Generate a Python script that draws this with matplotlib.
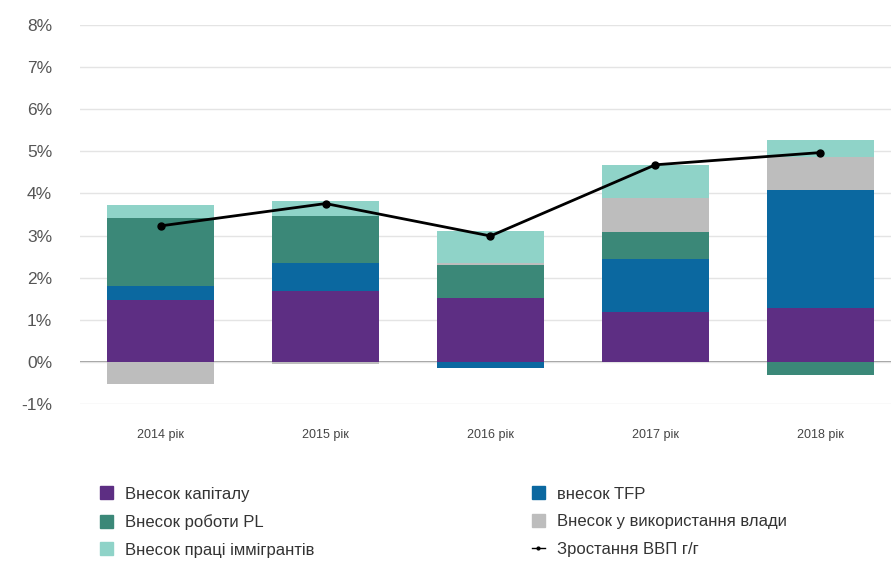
import numpy as np
import matplotlib.pyplot as plt
from matplotlib.patches import Patch
from matplotlib.lines import Line2D

# дані (внески у зростання ВВП, %)
years = ['2014 рік', '2015 рік', '2016 рік', '2017 рік', '2018 рік']
capital = [1.48, 1.69, 1.52, 1.19, 1.28]
tfp = [0.32, 0.66, -0.14, 1.25, 2.80]
labor_pl = [1.62, 1.11, 0.78, 0.65, -0.32]
power_use = [-0.52, -0.04, 0.05, 0.79, 0.79]
immigrants = [0.30, 0.36, 0.76, 0.79, 0.39]
gdp_growth = [3.23, 3.76, 2.99, 4.68, 4.97]

series = [
    ('Внесок капіталу', capital, '#5d2e83'),
    ('внесок TFP', tfp, '#0b68a0'),
    ('Внесок роботи PL', labor_pl, '#3b8878'),
    ('Внесок у використання влади', power_use, '#bdbdbd'),
    ('Внесок праці іммігрантів', immigrants, '#8fd3c8'),
]

plt.rcParams['font.family'] = ['Liberation Sans', 'DejaVu Sans']

fig = plt.figure(figsize=(8.91, 5.68), dpi=100)
ax = fig.add_axes([80 / 891, 164 / 568, 811 / 891, 379 / 568])

x = np.arange(len(years))
pos_base = np.zeros(len(years))
neg_base = np.zeros(len(years))
colors = {}
for name, vals, col in series:
    vals = np.array(vals)
    bottom = np.where(vals >= 0, pos_base, neg_base)
    ax.bar(x, vals, 0.65, bottom=bottom, color=col, zorder=2)
    pos_base = pos_base + np.where(vals >= 0, vals, 0)
    neg_base = neg_base + np.where(vals < 0, vals, 0)
    colors[name] = col

# лінія зростання ВВП
ax.plot(x, gdp_growth, color='black', lw=2, marker='o', markersize=5, zorder=3)

ax.set_ylim(-1, 8)
ax.set_xlim(-0.49, 4.43)
ax.set_yticks(range(-1, 9))
ax.set_yticklabels([f'{v}%' for v in range(-1, 9)], fontsize=12.5, color='#555555')
ax.set_xticks(x)
ax.set_xticklabels(years, fontsize=9, color='#444444')
ax.tick_params(length=0)
ax.tick_params(axis='y', pad=20)
ax.tick_params(axis='x', pad=18)
ax.grid(axis='y', color='#e4e4e4', lw=1, zorder=0)
ax.axhline(0, color='#888888', lw=1.2, zorder=1)
for s in ax.spines.values():
    s.set_visible(False)

left_items = [Patch(color=colors['Внесок капіталу']),
              Patch(color=colors['Внесок роботи PL']),
              Patch(color=colors['Внесок праці іммігрантів'])]
left_labels = ['Внесок капіталу', 'Внесок роботи PL', 'Внесок праці іммігрантів']
right_items = [Patch(color=colors['внесок TFP']),
               Patch(color=colors['Внесок у використання влади']),
               Line2D([], [], color='black', lw=1, marker='o', markersize=2)]
right_labels = ['внесок TFP', 'Внесок у використання влади', 'Зростання ВВП г/г']

kw = dict(frameon=False, fontsize=12, handlelength=0.8, handleheight=0.8,
          handletextpad=0.7, labelspacing=0.75, labelcolor='#333333')
fig.legend(left_items, left_labels, loc='upper left', bbox_to_anchor=(0.095, 0.17), **kw)
fig.legend(right_items, right_labels, loc='upper left', bbox_to_anchor=(0.58, 0.17), **kw)

fig.savefig('out.png', dpi=100)
